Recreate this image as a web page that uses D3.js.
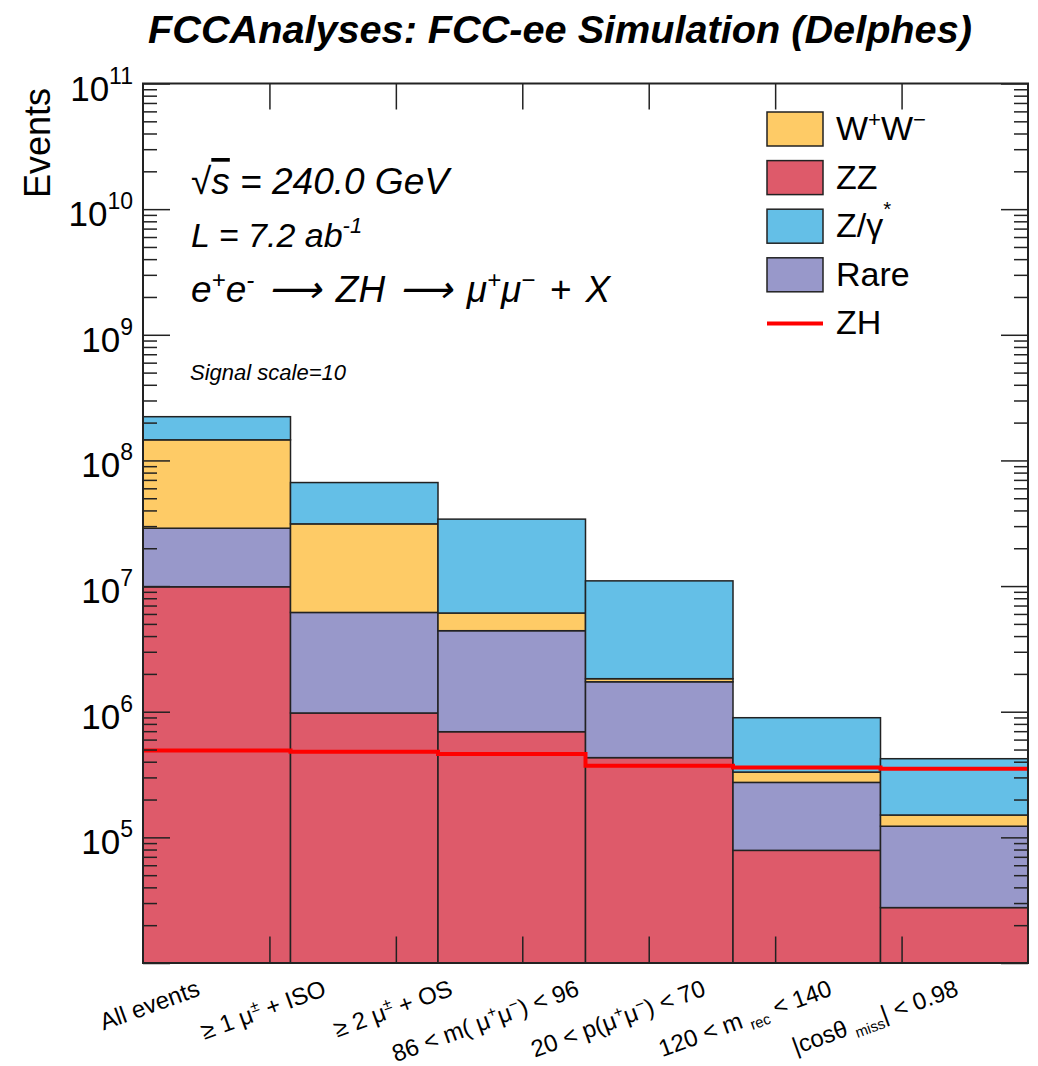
<!DOCTYPE html>
<html>
<head>
<meta charset="utf-8">
<script src="https://cdn.jsdelivr.net/npm/d3@7"></script>
<style>
  body { margin: 0; background: #fff; }
  text { font-family: "Liberation Sans", Arial, sans-serif; fill: #000; }
</style>
</head>
<body>
<div id="chart"></div>
<script>
// stacked backgrounds, bottom to top: ZZ, Rare, WW, Z/gamma*
const bins = [0, 1, 2, 3, 4, 5];
const zz = [9.87e6, 9.77e5, 6.93e5, 4.31e5, 7.88e4, 2.76e4];
const rare = [1.90e7, 5.19e6, 3.72e6, 1.30e6, 1.95e5, 9.5e4];
const ww = [1.17e8, 2.51e7, 1.69e6, 1.0e5, 5.7e4, 2.8e4];
const zgamma = [7.7e7, 3.54e7, 2.80e7, 9.17e6, 5.65e5, 2.72e5];
const zh = [4.92e5, 4.81e5, 4.61e5, 3.72e5, 3.59e5, 3.52e5]; // signal x10

const cutLabels = [
    [["All events"]],
    [["\u2265 1 \u03bc"], ["\u00b1", "sup"], [" + ISO"]],
    [["\u2265 2 \u03bc"], ["\u00b1", "sup"], [" + OS"]],
    [["86 < m( \u03bc"], ["+", "sup"], ["\u03bc"], ["\u2212", "sup"], [") < 96"]],
    [["20 < p(\u03bc"], ["+", "sup"], ["\u03bc"], ["\u2212", "sup"], [") < 70"]],
    [["120 < m "], ["rec", "sub"], [" < 140"]],
    [["|cos\u03b8 "], ["miss", "sub"], ["| < 0.98"]]
];
const decades = [5, 6, 7, 8, 9, 10, 11];

const series = [
    {key: "zz", values: zz, color: "#de5a6a"},
    {key: "rare", values: rare, color: "#9898ca"},
    {key: "ww", values: ww, color: "#fecb66"},
    {key: "zgamma", values: zgamma, color: "#64bfe7"}
];
const legendItems = [
    {label: [["W"], ["+", "sup"], ["W"], ["\u2212", "sup"]], color: "#fecb66"},
    {label: [["ZZ"]], color: "#de5a6a"},
    {label: [["Z/\u03b3"], ["*", "sup2"]], color: "#64bfe7"},
    {label: [["Rare"]], color: "#9898ca"},
    {label: [["ZH"]], line: "#ff0000"}
];

const width = 1038, height = 1066;
const margin = {top: 83.5, right: 10, bottom: 103, left: 143};
const innerWidth = width - margin.left - margin.right;
const innerHeight = height - margin.top - margin.bottom;

const svg = d3.select("#chart").append("svg")
    .attr("width", width)
    .attr("height", height);

// small helper for ROOT-like latex bits (sup / sub)
const shift = {sup: 0.38, sup2: 0.62, sub: -0.22};
const scale = {sup: 0.65, sup2: 0.6, sub: 0.62};
function richText(sel, parts, size) {
    let carry = 0;
    parts.forEach(p => {
        const t = sel.append("tspan").text(p[0]);
        const mode = p[1];
        if (mode) {
            t.attr("font-size", size * scale[mode]).attr("dy", carry - size * shift[mode]);
            carry = size * shift[mode];
        } else if (carry) {
            t.attr("dy", carry);
            carry = 0;
        }
    });
}

// title
const title = svg.append("text")
    .attr("x", 560).attr("y", 43)
    .attr("text-anchor", "middle")
    .attr("font-weight", "bold").attr("font-style", "italic")
    .attr("font-size", 36)
    .text("FCCAnalyses: FCC-ee Simulation (Delphes)");
const tl = title.node().getComputedTextLength();
title.attr("font-size", 36 * 824 / tl);

const chart = svg.append("g")
    .attr("transform", `translate(${margin.left},${margin.top})`);

const x = d3.scaleLinear().domain([0, bins.length]).range([0, innerWidth]);
const xl = d3.scaleLinear().domain([0, cutLabels.length]).range([0, innerWidth]);
const y = d3.scaleLog().domain([1e4, 1e11]).range([innerHeight, 0]);

// stacks
const table = bins.map(i => {
    const row = {bin: i};
    series.forEach(s => row[s.key] = s.values[i]);
    return row;
});
const stack = d3.stack().keys(series.map(s => s.key))(table);

stack.forEach((layer, li) => {
    chart.append("g").selectAll("rect")
        .data(layer)
        .join("rect")
        .attr("x", d => x(d.data.bin))
        .attr("width", x(1) - x(0))
        .attr("y", d => y(d[1]))
        .attr("height", d => y(Math.max(d[0], 1e4)) - y(d[1]))
        .attr("fill", series[li].color)
        .attr("stroke", "#222")
        .attr("stroke-width", 1.5);
});

// signal line
const zhPts = zh.map((v, i) => [i, v]).concat([[bins.length, zh[zh.length - 1]]]);
chart.append("path")
    .datum(zhPts)
    .attr("fill", "none")
    .attr("stroke", "#ff0000")
    .attr("stroke-width", 4)
    .attr("d", d3.line().x(d => x(d[0])).y(d => y(d[1])).curve(d3.curveStepAfter));

// axes (ticks only, labels drawn separately)
const majors = decades.map(e => Math.pow(10, e)).concat([1e4]);
const minors = [];
for (let e = 4; e < 11; e++) for (let m = 2; m < 10; m++) minors.push(m * Math.pow(10, e));

function tickAxis(axis) {
    const g = chart.append("g").call(axis);
    g.select(".domain").remove();
    g.selectAll("text").remove();
    g.selectAll("line").attr("stroke", "#222").attr("stroke-width", 1.5);
    return g;
}
tickAxis(d3.axisLeft(y).tickValues(majors).tickSize(-27));
tickAxis(d3.axisLeft(y).tickValues(minors).tickSize(-14));
tickAxis(d3.axisRight(y).tickValues(majors).tickSize(-27))
    .attr("transform", `translate(${innerWidth},0)`);
tickAxis(d3.axisRight(y).tickValues(minors).tickSize(-14))
    .attr("transform", `translate(${innerWidth},0)`);

const xTicks = d3.range(1, cutLabels.length);
tickAxis(d3.axisBottom(xl).tickValues(xTicks).tickSize(-26.5))
    .attr("transform", `translate(0,${innerHeight})`);
tickAxis(d3.axisTop(xl).tickValues(xTicks).tickSize(-26));

// frame
chart.append("rect")
    .attr("width", innerWidth).attr("height", innerHeight)
    .attr("fill", "none").attr("stroke", "#222").attr("stroke-width", 2);

// y tick labels 10^n
decades.forEach(e => {
    const t = chart.append("text")
        .attr("x", -10).attr("y", y(Math.pow(10, e)) + 17)
        .attr("text-anchor", "end")
        .attr("font-size", 35);
    t.append("tspan").text("10");
    t.append("tspan").text(e).attr("font-size", 23).attr("dy", -17);
});

// y title
svg.append("text")
    .attr("transform", "translate(50,88) rotate(-90)")
    .attr("text-anchor", "end")
    .attr("font-size", 36)
    .text("Events");

// x labels
cutLabels.forEach((parts, i) => {
    const cx = margin.left + xl(i + 0.5);
    const t = svg.append("text")
        .attr("transform", `translate(${cx - 5},${995}) rotate(-20)`)
        .attr("text-anchor", "end")
        .attr("font-size", 24);
    richText(t, parts, 24);
});

// annotations
const ann = svg.append("g").attr("font-style", "italic");
const t1 = ann.append("text").attr("x", 191).attr("y", 194).attr("font-size", 37);
t1.append("tspan").attr("font-style", "normal").text("\u221a");
t1.append("tspan").attr("style", "text-decoration: overline").text("s");
t1.append("tspan").text(" = 240.0 GeV");

const t2 = ann.append("text").attr("x", 191).attr("y", 247).attr("font-size", 34);
t2.append("tspan").text("L = 7.2 ab");
t2.append("tspan").attr("font-size", 22).attr("dy", -14).text("-1");

const t3 = ann.append("text").attr("x", 191).attr("y", 302).attr("font-size", 37)
    .attr("word-spacing", 4);
richText(t3, [["e"], ["+", "sup"], ["e"], ["-", "sup"], ["  \u27f6  ZH  \u27f6  \u03bc"], ["+", "sup"], ["\u03bc"], ["\u2212", "sup"], ["  +  X"]], 37);

ann.append("text").attr("x", 190).attr("y", 380).attr("font-size", 22)
    .text("Signal scale=10");

// legend
const legend = svg.append("g").attr("transform", "translate(767,112)");
legendItems.forEach((d, i) => {
    const g = legend.append("g").attr("transform", `translate(0,${i * 48.6})`);
    if (d.line) {
        g.append("line").attr("x1", 0).attr("x2", 56).attr("y1", 17).attr("y2", 17)
            .attr("stroke", d.line).attr("stroke-width", 4);
    } else {
        g.append("rect").attr("width", 56).attr("height", 34)
            .attr("fill", d.color).attr("stroke", "#222").attr("stroke-width", 1.5);
    }
    const t = g.append("text").attr("x", 69).attr("y", 28).attr("font-size", 34);
    richText(t, d.label, 34);
});
</script>
</body>
</html>
